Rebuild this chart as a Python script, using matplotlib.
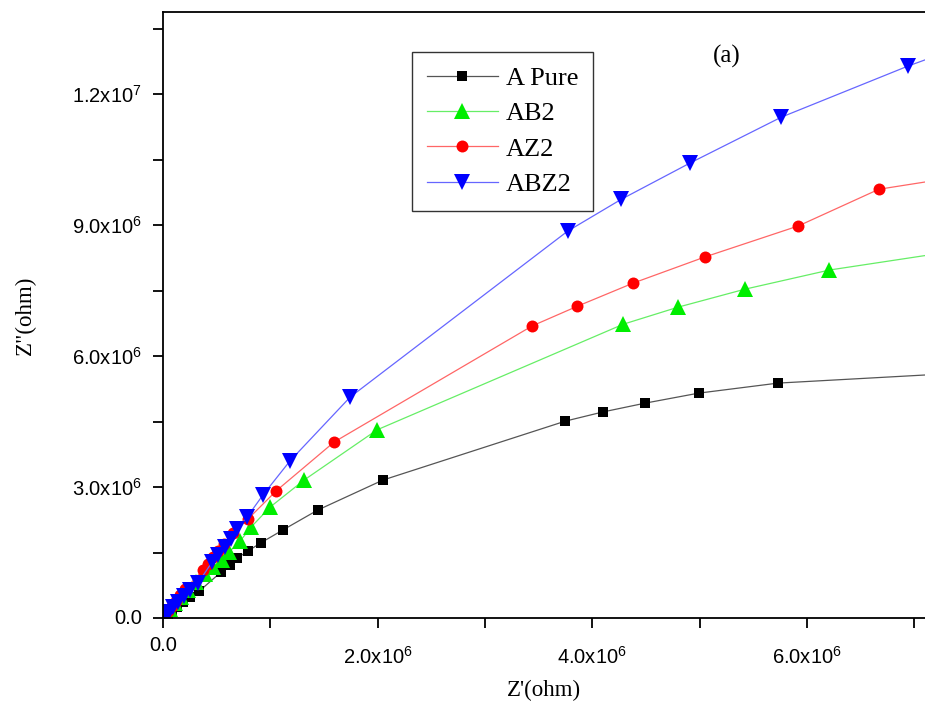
import matplotlib
matplotlib.use("Agg")
import matplotlib.pyplot as plt
from matplotlib.ticker import MultipleLocator, FuncFormatter

# Nyquist data: real part Z' and imaginary part Z'' (ohm)
series_names = ["A Pure", "AB2", "AZ2", "ABZ2"]

a_pure_zr = [0.02e6, 0.047e6, 0.084e6, 0.13e6, 0.19e6, 0.25e6, 0.34e6, 0.54e6, 0.62e6,
             0.69e6, 0.79e6, 0.91e6, 1.12e6, 1.44e6, 2.05e6, 3.75e6, 4.10e6, 4.49e6,
             4.99e6, 5.73e6, 7.5e6]
a_pure_zi = [0.05e6, 0.09e6, 0.16e6, 0.25e6, 0.37e6, 0.48e6, 0.62e6, 1.05e6, 1.21e6,
             1.37e6, 1.53e6, 1.72e6, 2.02e6, 2.47e6, 3.16e6, 4.51e6, 4.72e6, 4.92e6,
             5.15e6, 5.38e6, 5.62e6]

ab2_zr = [0.028e6, 0.065e6, 0.112e6, 0.168e6, 0.233e6, 0.308e6, 0.392e6, 0.466e6, 0.55e6,
          0.615e6, 0.718e6, 0.82e6, 0.998e6, 1.315e6, 1.995e6, 4.29e6, 4.80e6, 5.42e6,
          6.21e6, 7.5e6]
ab2_zi = [0.09e6, 0.21e6, 0.34e6, 0.48e6, 0.64e6, 0.82e6, 1.01e6, 1.17e6, 1.33e6,
          1.51e6, 1.76e6, 2.08e6, 2.54e6, 3.16e6, 4.31e6, 6.73e6, 7.12e6, 7.53e6,
          7.97e6, 8.45e6]

az2_zr = [0.019e6, 0.047e6, 0.084e6, 0.121e6, 0.159e6, 0.205e6, 0.373e6, 0.42e6, 0.466e6,
          0.513e6, 0.569e6, 0.653e6, 0.793e6, 1.054e6, 1.594e6, 3.44e6, 3.86e6, 4.38e6,
          5.05e6, 5.92e6, 6.67e6, 7.5e6]
az2_zi = [0.07e6, 0.16e6, 0.27e6, 0.39e6, 0.53e6, 0.66e6, 1.10e6, 1.24e6, 1.40e6,
          1.53e6, 1.69e6, 1.95e6, 2.27e6, 2.91e6, 4.03e6, 6.69e6, 7.14e6, 7.67e6,
          8.27e6, 8.98e6, 9.82e6, 10.14e6]

abz2_zr = [0.028e6, 0.056e6, 0.093e6, 0.14e6, 0.196e6, 0.252e6, 0.326e6, 0.457e6, 0.513e6,
           0.578e6, 0.634e6, 0.69e6, 0.783e6, 0.932e6, 1.184e6, 1.744e6, 3.77e6, 4.27e6,
           4.91e6, 5.76e6, 6.94e6, 7.5e6]
abz2_zi = [0.07e6, 0.14e6, 0.25e6, 0.37e6, 0.50e6, 0.64e6, 0.80e6, 1.28e6, 1.44e6,
           1.63e6, 1.81e6, 2.04e6, 2.31e6, 2.82e6, 3.60e6, 5.06e6, 8.86e6, 9.59e6,
           10.42e6, 11.47e6, 12.64e6, 13.14e6]

W, H = 925, 706
fig = plt.figure(figsize=(W / 100, H / 100), dpi=100)
ax = fig.add_axes([163 / W, 1 - 618 / H, 1 - 163 / W, (618 - 12) / H])

styles = [
    (a_pure_zr, a_pure_zi, "s", "black", "#555555", 7.8),
    (ab2_zr, ab2_zi, "^", "#00ee00", "#66ee66", 11),
    (az2_zr, az2_zi, "o", "#ff0000", "#ff6666", 8.6),
    (abz2_zr, abz2_zi, "v", "#0000ff", "#6666ff", 11),
]
for name, (xs, ys, mk, mc, lc, ms) in zip(series_names, styles):
    ax.plot(xs, ys, color=lc, lw=0.9, marker=mk, ms=ms, mfc=mc, mec=mc,
            mew=0, label=name, clip_on=True)

ax.set_xlim(0, 7.1e6)
ax.set_ylim(0, 13.88e6)

ax.spines["right"].set_visible(False)
for s in ("left", "bottom", "top"):
    ax.spines[s].set_linewidth(1.3)

ax.xaxis.set_major_locator(MultipleLocator(2e6))
ax.xaxis.set_minor_locator(MultipleLocator(1e6))
ax.yaxis.set_major_locator(MultipleLocator(3e6))
ax.yaxis.set_minor_locator(MultipleLocator(1.5e6))
ax.tick_params(which="both", direction="out", length=7, width=1.3)
ax.tick_params(top=False, right=False, which="both")


def sci_fmt(v, pos):
    if abs(v) < 1e-9:
        return ""
    exp = 0
    m = v
    while abs(m) >= 10:
        m /= 10
        exp += 1
    return r"$\mathregular{%.1fx10^{%d}}$" % (m, exp)


ax.xaxis.set_major_formatter(FuncFormatter(sci_fmt))
ax.yaxis.set_major_formatter(FuncFormatter(sci_fmt))
tick_font = ["Liberation Sans", "DejaVu Sans"]
tick_size = 14.5
for lab in ax.get_xticklabels() + ax.get_yticklabels():
    lab.set_family(tick_font)
    lab.set_fontsize(tick_size)
ax.tick_params(axis="x", pad=13)
ax.tick_params(axis="y", pad=8)

# zero labels at the origin of each axis
ax.annotate("0.0", xy=(0, 0), xycoords="data", xytext=(0, -20), textcoords="offset points",
            ha="center", va="center", family=tick_font, fontsize=tick_size, annotation_clip=False)
ax.annotate("0.0", xy=(0, 0), xycoords="data", xytext=(-15, 0), textcoords="offset points",
            ha="right", va="center", family=tick_font, fontsize=tick_size, annotation_clip=False)

ax.set_xlabel("Z'(ohm)", family="Liberation Serif", fontsize=16.5, labelpad=9)
ax.set_ylabel('Z"(ohm)', family="Liberation Serif", fontsize=16.5, labelpad=26)

ax.annotate("(a)", xy=((727 - 163) / (W - 163), (618 - 56) / (618 - 12)),
            xycoords="axes fraction", ha="center", va="center",
            family="Liberation Serif", fontsize=18)

leg = ax.legend(loc="upper left", bbox_to_anchor=((412 - 163) / (W - 163), (618 - 52) / (618 - 12)),
                prop={"family": "Liberation Serif", "size": 19}, frameon=True,
                fancybox=False, edgecolor="black", borderpad=0.55, labelspacing=0.45,
                handlelength=2.7, handletextpad=0.3, borderaxespad=0)
leg.get_frame().set_linewidth(1.0)

fig.savefig("out.png", dpi=100)
